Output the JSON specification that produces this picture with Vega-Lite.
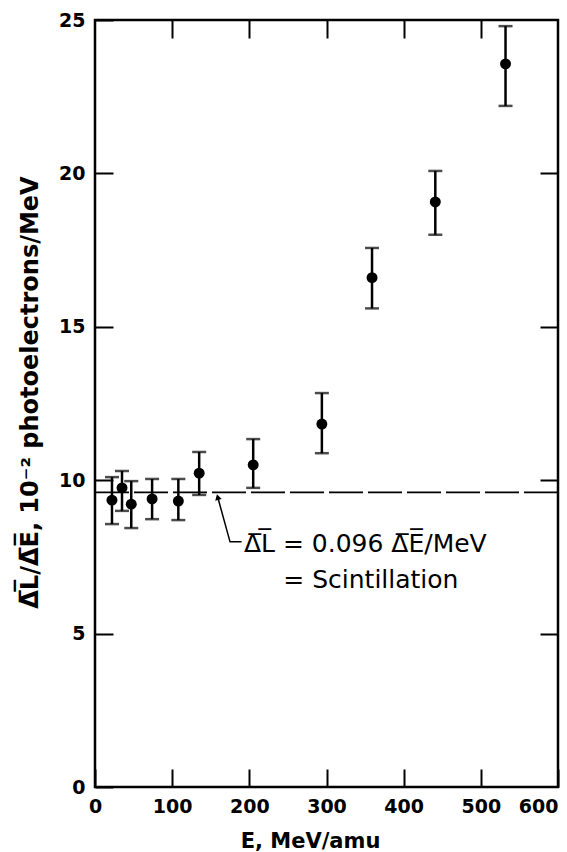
{
  "$schema": "https://vega.github.io/schema/vega-lite/v6.json",
  "width": 463,
  "height": 767,
  "autosize": "none",
  "padding": {"left": 95, "top": 20, "right": 9, "bottom": 65},
  "background": "white",
  "config": {
    "view": {"stroke": "black", "strokeWidth": 2.5},
    "font": "DejaVu Sans",
    "axis": {"grid": false, "domain": false, "tickColor": "black", "tickWidth": 2, "tickSize": -18, "labelColor": "black", "titleColor": "black", "labelFont": "DejaVu Sans", "titleFont": "DejaVu Sans", "labelFlush": false}
  },
  "datasets": {
    "pts": [
      {"E": 22, "R": 9.35, "lo": 8.57, "hi": 10.1},
      {"E": 35, "R": 9.75, "lo": 9.0, "hi": 10.3},
      {"E": 47, "R": 9.22, "lo": 8.44, "hi": 9.97},
      {"E": 74, "R": 9.39, "lo": 8.73, "hi": 10.04},
      {"E": 108, "R": 9.32, "lo": 8.7, "hi": 10.04},
      {"E": 135, "R": 10.23, "lo": 9.52, "hi": 10.92},
      {"E": 205, "R": 10.5, "lo": 9.75, "hi": 11.34},
      {"E": 294, "R": 11.83, "lo": 10.88, "hi": 12.84},
      {"E": 359, "R": 16.6, "lo": 15.6, "hi": 17.57},
      {"E": 441, "R": 19.07, "lo": 18.0, "hi": 20.08},
      {"E": 532, "R": 23.57, "lo": 22.2, "hi": 24.8}
    ],
    "fit": [{"R": 9.6}],
    "arrow": [
      {"E": 159, "R": 9.45, "o": 1},
      {"E": 175, "R": 7.99, "o": 2},
      {"E": 190, "R": 7.99, "o": 3}
    ],
    "labels": [
      {"E": 193, "R": 7.66, "t": "Δ̅L̅ = 0.096 Δ̅E̅/MeV"},
      {"E": 244, "R": 6.49, "t": "= Scintillation"}
    ]
  },
  "layer": [
    {
      "data": {"name": "pts"},
      "mark": {"type": "rule", "color": "black", "strokeWidth": 2.5},
      "encoding": {
        "x": {"field": "E", "type": "quantitative", "scale": {"domain": [0, 600], "nice": false},
          "axis": {"orient": "bottom", "values": [0, 100, 200, 300, 400, 500, 600], "labelFontSize": 19, "labelFontWeight": "bold", "labelPadding": 28, "labelAlign": {"condition": {"test": "datum.value == 600", "value": "right"}, "value": "center"}, "title": "E, MeV/amu", "titleFontSize": 21, "titleFontWeight": "bold", "titleX": 215, "titleY": 64, "titleBaseline": "bottom", "titleAnchor": null}},
        "y": {"field": "lo", "type": "quantitative", "scale": {"domain": [0, 25], "nice": false},
          "axis": {"orient": "left", "values": [0, 5, 10, 15, 20, 25], "labelFontSize": 19, "labelFontWeight": "bold", "labelPadding": 28, "title": "Δ̅L̅/Δ̅E̅, 10⁻² photoelectrons/MeV", "titleFontSize": 24, "titleFontWeight": "bold", "titleAngle": -90, "titleX": -65, "titleY": 372, "titleAlign": "center", "titleBaseline": "middle"}},
        "y2": {"field": "hi"}
      }
    },
    {
      "data": {"name": "pts"},
      "mark": {"type": "tick", "orient": "horizontal", "color": "black", "size": 14, "thickness": 2.5},
      "encoding": {
        "x": {"field": "E", "type": "quantitative", "axis": {"orient": "top", "values": [100, 200, 300, 400, 500], "labels": false, "title": null}},
        "y": {"field": "lo", "type": "quantitative", "axis": {"orient": "right", "values": [5, 10, 15, 20], "labels": false, "title": null}}
      }
    },
    {
      "data": {"name": "pts"},
      "mark": {"type": "tick", "orient": "horizontal", "color": "black", "size": 14, "thickness": 2.5},
      "encoding": {
        "x": {"field": "E", "type": "quantitative", "axis": null},
        "y": {"field": "hi", "type": "quantitative", "axis": null}
      }
    },
    {
      "data": {"name": "pts"},
      "mark": {"type": "point", "filled": true, "color": "black", "opacity": 1, "size": 120, "shape": "circle"},
      "encoding": {
        "x": {"field": "E", "type": "quantitative", "axis": null},
        "y": {"field": "R", "type": "quantitative", "axis": null}
      }
    },
    {
      "data": {"name": "fit"},
      "mark": {"type": "rule", "color": "black", "strokeWidth": 1.8, "strokeDash": [34, 5]},
      "encoding": {"y": {"field": "R", "type": "quantitative", "axis": null}}
    },
    {
      "data": {"name": "arrow"},
      "mark": {"type": "line", "color": "black", "strokeWidth": 1.5},
      "encoding": {
        "x": {"field": "E", "type": "quantitative", "axis": null},
        "y": {"field": "R", "type": "quantitative", "axis": null},
        "order": {"field": "o"}
      }
    },
    {
      "data": {"name": "arrow"},
      "transform": [{"filter": "datum.o == 1"}],
      "mark": {"type": "point", "shape": "triangle-up", "filled": true, "color": "black", "opacity": 1, "size": 45, "angle": -15},
      "encoding": {
        "x": {"field": "E", "type": "quantitative", "axis": null},
        "y": {"field": "R", "type": "quantitative", "axis": null}
      }
    },
    {
      "data": {"name": "labels"},
      "mark": {"type": "text", "align": "left", "baseline": "alphabetic", "fontSize": 25, "color": "black", "font": "DejaVu Sans"},
      "encoding": {
        "x": {"field": "E", "type": "quantitative", "axis": null},
        "y": {"field": "R", "type": "quantitative", "axis": null},
        "text": {"field": "t"}
      }
    }
  ],
  "resolve": {"axis": {"x": "independent", "y": "independent"}}
}
